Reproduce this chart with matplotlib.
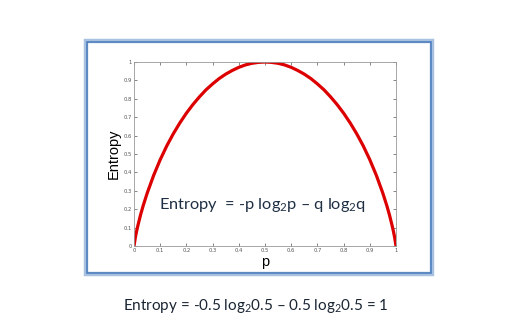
import matplotlib.pyplot as plt
from matplotlib.patches import Rectangle

plt.rcParams['mathtext.fontset'] = 'custom'
plt.rcParams['mathtext.rm'] = 'Lato'
plt.rcParams['mathtext.it'] = 'Lato:italic'

# values (curve is symmetric around p = 0.5)
p_left = [0, 0.005, 0.01, 0.015, 0.025, 0.035, 0.05, 0.075, 0.1, 0.125, 0.15, 0.175, 0.2,
          0.225, 0.25, 0.275, 0.3, 0.325, 0.35, 0.375, 0.4, 0.425, 0.45, 0.475, 0.5]
h_left = [0.0, 0.045, 0.081, 0.112, 0.169, 0.219, 0.286, 0.384, 0.469, 0.544, 0.610, 0.669, 0.722,
          0.769, 0.811, 0.849, 0.881, 0.910, 0.934, 0.954, 0.971, 0.984, 0.993, 0.998, 1.0]
p_vals = p_left + [round(1 - p, 3) for p in p_left[-2::-1]]
entropy_vals = h_left + h_left[-2::-1]
x_ticks = [0, 0.1, 0.2, 0.3, 0.4, 0.5, 0.6, 0.7, 0.8, 0.9, 1]
y_ticks = [0, 0.1, 0.2, 0.3, 0.4, 0.5, 0.6, 0.7, 0.8, 0.9, 1]

W, H = 527, 328
fig = plt.figure(figsize=(W / 100, H / 100), dpi=100)
fig.patch.set_facecolor('white')

# blue slide frame
fig.patches.append(Rectangle((86 / W, 1 - 274 / H), 346 / W, 233 / H, transform=fig.transFigure,
                             fill=False, edgecolor='#a9c1e0', linewidth=3.2))
fig.patches.append(Rectangle((87 / W, 1 - 273 / H), 344 / W, 231 / H, transform=fig.transFigure,
                             fill=False, edgecolor='#4f7fbf', linewidth=1.2))

ax = fig.add_axes([134 / W, 1 - 246 / H, 262 / W, 184 / H])
ax.plot(p_vals, entropy_vals, color='#dd0000', linewidth=2.3, solid_joinstyle='round')
ax.set_xlim(0, 1)
ax.set_ylim(0, 1)
ax.set_xticks(x_ticks)
ax.set_yticks(y_ticks)
ax.set_xticklabels([('%g' % t) for t in x_ticks])
ax.set_yticklabels([('%g' % t) for t in y_ticks])
ax.tick_params(direction='in', length=2, width=0.5, labelsize=3.8, colors='#555555',
               top=True, right=True, pad=1.5)
for s in ax.spines.values():
    s.set_color('#999999')
    s.set_linewidth(0.6)

ax.set_xlabel('p', family='Liberation Sans', fontsize=10.5, labelpad=1.5)
ax.set_ylabel('Entropy', family='Liberation Sans', fontsize=10.5, labelpad=2)

fig.text(159 / W, 1 - 205 / H, r'Entropy  = -p log$_2$p – q log$_2$q', family='Lato',
         fontsize=11.8, color='#1f2f44', va='center', ha='left')
fig.text(123 / W, 1 - 306 / H, r'Entropy = -0.5 log$_2$0.5 – 0.5 log$_2$0.5 = 1', family='Lato',
         fontsize=11, color='#1a2533', va='center', ha='left')

fig.savefig('out.png', dpi=100)
